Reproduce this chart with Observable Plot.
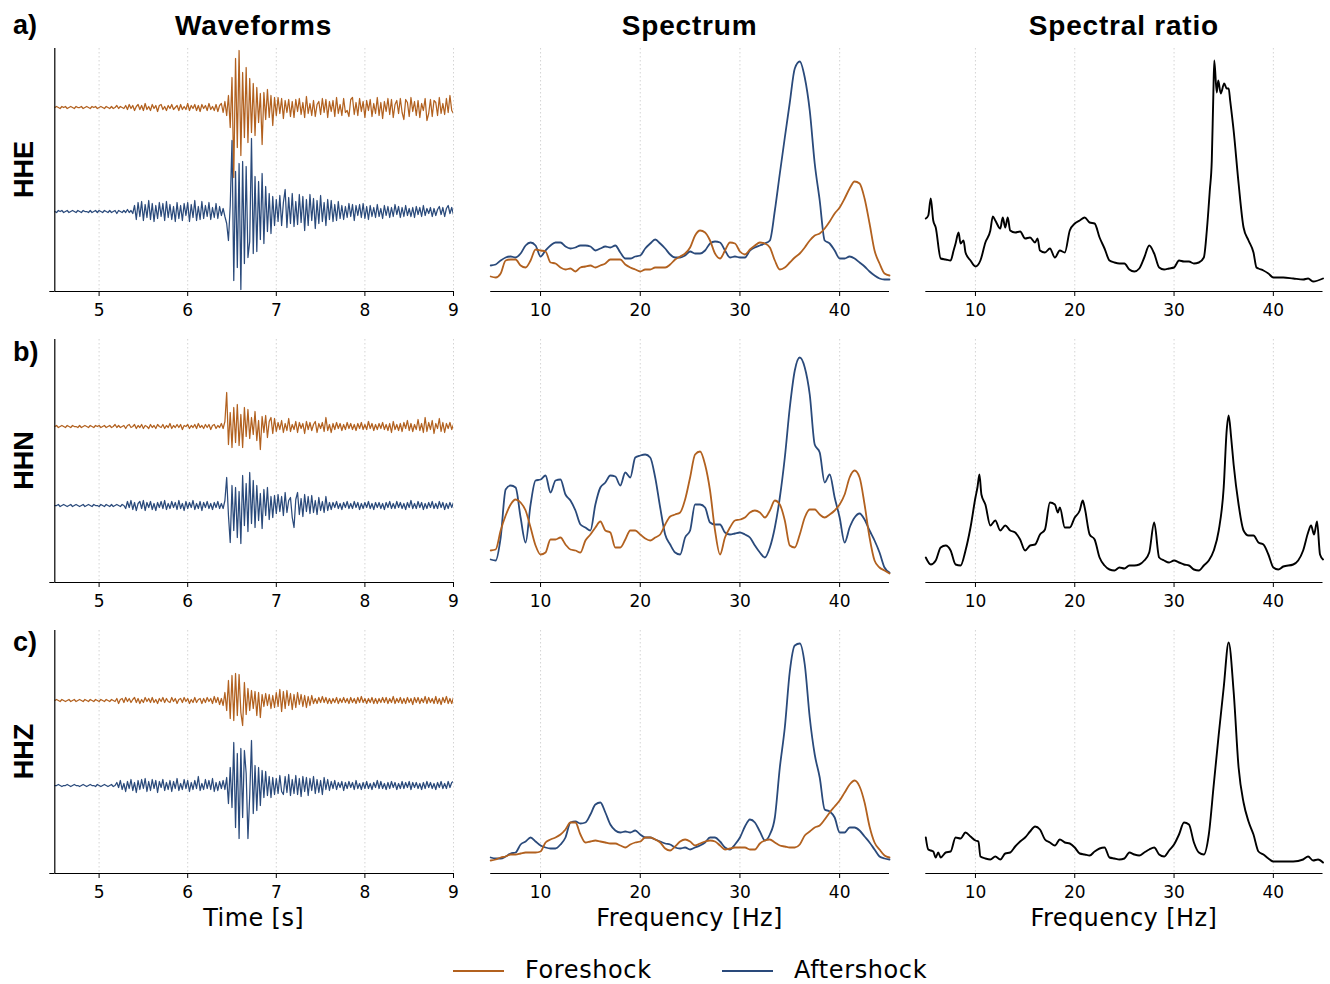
<!DOCTYPE html>
<html><head><meta charset="utf-8">
<script src="https://cdn.jsdelivr.net/npm/d3@7"></script>
<script src="https://cdn.jsdelivr.net/npm/@observablehq/plot@0.6"></script>
<style>
html,body{margin:0;padding:0;background:#fff;}
body{width:1330px;height:984px;position:relative;overflow:hidden;}
svg.plotpanel{position:absolute;}
</style></head><body>
<script>
// ---------------- data ----------------
const channels = ["HHE", "HHN", "HHZ"];
const rowTags = ["a)", "b)", "c)"];
const colTitles = ["Waveforms", "Spectrum", "Spectral ratio"];
const xLabels = ["Time [s]", "Frequency [Hz]", "Frequency [Hz]"];
const seriesNames = ["Foreshock", "Aftershock"];
const timeTicks = [5, 6, 7, 8, 9];
const freqTicks = [10, 20, 30, 40];
const waveStart = 4.5, waveStep = 0.02;   // seconds

// waveform samples (amplitude, arbitrary units), every 0.02 s from 4.5 s
const hheFore = [
0,1,0,-1,1,0,1,-1,0,1, 0,-1,1,0,0,1,-1,0,1,0, -1,1,0,1,-1,0,1,0,-1,1, 0,-1,1,-1,0,2,-1,1,0,-1,
2,-2,3,-1,2,-3,1,3,-2,2, -3,4,-2,1,-3,3,-1,2,-4,2, 3,-2,1,-3,2,-1,3,-2,0,2, -3,3,-2,1,-2,4,-3,2,-1,3,
-3,2,-4,3,-1,2,-3,4,-2,1, -3,3,-4,2,4, -5,6,-8,12,-20,
30,-70,49,-40,57,-48,35,-30,40,-35, 29,-25,24,-28,20,-15,14,-37,15,-12, 18,-10,12,-18,10,
-8,10,-6,9,-11,7,-5,8,-9,6, -10,8,-4,9,-7,5,-10,11,-6,4, -8,7,-9,3,6,-7,9,-5,8,-10,
6,-4,7,-9,10,-6,3,-8,9,-5, -3,-9,8,10,-7,5,-8,9,-4,6, -10,7,-3,8,-9,4,-6,10,-8,5,
-11,6,-4,9,-7,8,-10,3,7,-6, 9,-5,-12,8,5,-9,10,-4,6,-8, 7,-10,4,-3,9,-13,-6,8,-9,7,
5,-8,10,-6,4,-7,9,-5,12,-3, -6];
const hheAfter = [
0,-1,1,0,1,-1,0,1,-1,0, 1,0,-1,1,0,-1,1,0,0,-1, 1,-1,0,1,-1,1,0,-1,1,0, -1,1,-1,0,1,-2,1,0,-1,1,
-1,2,-1,1,-2,
6,-8,9,-5,10,-9,7,-6,11,-8, 8,-10,6,-7,9,-5,8,-9,10,-6, 7,-8,5,-10,9,-7,6,-9,8,-4,
9,-10,7,-6,11,-9,5,-8,10,-7, 6,-5,9,-8,4,-6,8,-7,5,-4, 3,-5,
-12,-29,6,
71,-69,40,-56,48,-78,50,-52,45,-46, -30,73,-42,35,-40,30,-28,38,-32,25, -20,18,-22,15,-14,
12,-10,16,-14,9,22,-16,14,-12,18, -15,10,-13,17,-11,15,-19,12,-14,17, -9,13,-17,11,-12,16,-10,9,-14,12,
-8,11,-10,7,-9,10,
-7,6,-8,5,-6,8,-5,7,-9,6, -4,7,-6,8,-7,5,-8,6,-5,4, -6,7,-5,3,-7,6,-4,5,-6,4,
-5,7,-3,5,-6,4,-5,6,-4,3, -5,4,-6,5,-3,4,-5,6,-4,3, -2,4,-5,3,-4,2,5,-3,4,-5, 3,6,-2,4,-3];
const hhnFore = [
0,1,-1,0,1,0,-1,1,0,-1, 1,0,0,-1,1,-1,0,1,0,-1, 1,0,-1,1,0,1,-1,0,1,-1, 0,1,-1,0,2,-1,1,-1,0,1,
-2,1,2,-1,0,2,-2,1,-1,2, -2,1,0,-2,2,-1,1,-2,2,0, -1,2,-2,1,-1,3,-2,1,-1,2, -1,2,-3,1,0,2,-2,1,-1,2,
-2,3,-1,1,-2,2,-1,2,-3,1, 2,-2,1,-1,3,
-2,5,
34,-18,14,-21,19,-16,22,-19,12,-21, 19,-10,17,-12,9,-8,15,-14,6,-23, 10,-6,11,-11,5,9,-7,8,
-5,4,-3,6,-6,3,-4,8,-5,2, -3,5,-6,4,-2,3,-7,5,-3,4, -4,2,5,-6,3,-2,4,-5,9,-4,
2,-6,3,-3,4,-2,3,-4,2,-3, 4,-2,3,-3,2,-4,3,-2,4,-3, 2,-3,5,-2,3,-4,2,-3,3,-2,
4,-3,2,-4,3,-6,5,-3,2,-4, 3,-5,4,-2,6,-4,3,-5,2,-3, 7,-4,3,-6,9,-5,4,-3,6,-7,
3,-2,8,-5,4,-6,3,-2,4,-3, 2];
const hhnAfter = [
0,0,1,-1,0,1,0,-1,0,1, -1,0,1,0,-1,0,1,-1,0,1, 0,-1,1,0,0,-1,1,0,-1,1, 0,-1,1,-1,0,1,0,-1,1,0,
-3,4,-2,5,-4,3,-5,2,4,-3, 5,-5,3,-2,4,-4,2,-5,3,-2, 4,-3,5,-4,2,-3,4,-2,3,-4, 5,-3,2,-5,4,-3,3,-2,5,-4,
2,-3,4,-5,3,-2,4,-3,2,-4, 3,-2,4,-3,2,-3,5,
28,-10,-37,20,-25,18,-32,14,-38,30, -20,22,-26,33,-18,25,-22,20,-15,12, -23,16,-10,18,-14,9,-12,10,
-8,11,-6,9,-10,13,-7,5,8,-12, -22,6,13,-9,7,-11,11,-6,9,-8, 10,-7,5,-9,8,-5,4,-7,9,-5, 3,
-4,3,-2,4,-3,2,-4,3,-2,4, -3,2,-3,4,-2,3,-4,2,-3,3, -2,4,-3,2,-4,3,-2,3,-3,2, -4,3,-2,4,-3,2,-3,4,-2,3,
-3,2,-4,3,-2,5,-3,2,-3,4, -2,3,-4,2,-3,3,-2,4,-3,2, -3,4,-2,3,-4,2,-3,3,-2,3];
const hhzFore = [
0,1,0,-1,1,0,-1,0,1,-1, 0,1,-1,0,1,0,-1,1,0,-1, 1,0,-1,1,0,-1,1,0,-1,1, 0,-1,1,0,-1,
2,-3,1,2,-2,3,-1,2,-2,1, 3,-2,2,-3,1,-2,3,-1,2,-2, 3,-2,1,-3,2,-1,3,-2,2,-1,
-2,3,-1,2,-3,1,2,-2,3,-1, 2,-3,1,-2,3,-2,1,2,-3,2, -2,3,-1,2,-3,4,-2,3,-4,2,
-5,8,-10,20,-18,25,-20,27,-15,26, -12,-25,18,-14,12,-10,10,-8,9,-15, 8,-17,6,-6,7,-5,6,-8,5,-7,
8,-6,11,-11,9,-8,10,-5,7,-9, 6,-7,8,-4,6,-6,5,-7,4,-5, 5,
-3,2,-3,3,-2,4,-2,3,-3,2, -3,2,-2,3,-3,2,-2,3,-2,2, -3,3,-2,2,-3,3,-2,4,-2,2, -3,2,-2,3,-3,2,-3,2,-2,3,
-2,3,-3,2,-2,4,-3,2,-2,3, -3,2,-3,3,-2,2,-4,3,-2,3, -3,2,-2,4,-3,3,-2,2,-3,4, -3,2,-4,3,-2,4,-3,2,-3,3];
const hhzAfter = [
0,0,1,0,-1,0,0,1,0,-1, 0,1,0,0,-1,0,1,0,-1,0, 1,0,0,-1,1,0,-1,0,1,0, -1,0,1,-1,0,
3,-2,5,-4,2,-6,4,-3,6,-5, 3,-7,5,-4,6,-3,7,-6,4,-5, 6,-3,5,-7,4,-2,6,-5,3,-4,
5,-6,4,-3,7,-5,2,-4,6,-3, 5,-6,3,-4,5,-3,9,-5,2,-4, 6,-3,5,-4,7,-6,3,-5,4,-3, 5,
-4,8,-18,18,-22,43,-42,32,-53,37, -32,35,12,-53,-10,45,-28,20,-25,18, -20,15,-12,14,-10,9,-12,8,-9,
7,-8,10,-6,-9,9,-7,11,-10,6, -8,10,-9,7,-11,9,-6,8,-10,7, -5,9,-8,6,-7,5,-9,8,-4,6, -5,
4,-3,5,-4,3,-2,4,-5,3,-3, 4,-2,3,-4,5,-3,2,-4,3,-3, 4,-3,2,-4,3,-2,5,-3,4,-3, 2,-4,3,-3,4,-2,3,-4,2,-3,
4,-3,3,-2,4,-4,3,-2,3,-3, 2,-4,3,-3,4,-2,3,-3,2,-4, 3,-2,4,-3,2,-3,4,-2,3,4];

// spectra (amplitude, arbitrary units) at 5, 5.5, ..., 45 Hz
const specFreqs = d3.range(5, 45.001, 0.5);
const hheSpecFore = [15,14,18,31,32,32,26,24,31,42, 41,40,29,28,24,22,23,20,24,25, 26,24,26,28,32,32,32,27,24,22,
 20,22,22,24,24,24,27,32,35,38, 44,56,61,59,51,38,33,41,49,48, 40,37,42,46,49,48,44,31,22,24,
 29,34,38,44,51,56,58,63,70,78, 84,93,103,110,108,93,68,41,28,18, 16];
const hheSpecAfter = [26,27,31,34,35,34,38,46,49,46, 35,41,46,49,49,45,43,44,46,46, 45,41,43,45,44,46,39,33,33,35,
 36,43,48,52,48,43,37,34,34,36, 40,38,38,41,48,50,49,41,34,35, 34,34,41,44,46,48,51,81,118,154,
 189,223,230,214,181,128,91,51,48,41, 33,33,35,33,29,25,20,16,13,12, 12];
const hhnSpecFore = [32,33,52,67,78,83,80,72,55,37, 28,30,43,43,45,38,33,32,30,42, 48,55,61,52,50,35,35,43,52,52,
 48,44,42,45,48,58,66,68,70,83, 105,128,131,118,92,52,28,45,55,62, 63,65,70,72,70,65,72,82,78,62,
 37,35,48,65,73,73,68,65,68,72, 78,88,105,112,105,78,45,22,15,12, 9];
const hhnSpecAfter = [23,22,45,93,97,95,65,40,78,102, 103,107,90,102,103,88,82,72,58,55, 52,78,95,100,107,106,97,110,105,125,
 127,128,125,105,75,48,38,30,28,45, 52,78,78,75,60,58,58,50,48,49, 50,48,45,37,30,25,35,55,85,125,
 175,212,225,215,188,138,130,100,108,85, 65,40,55,65,69,63,52,42,30,15, 10];
const hhzSpecFore = [13,14,16,17,19,19,20,21,21,21, 22,31,34,36,39,44,51,51,39,31, 32,33,32,31,30,30,28,26,29,31,
 32,36,36,34,31,25,23,27,32,34, 32,28,30,32,33,32,28,24,25,26, 26,26,24,24,30,33,34,31,28,27,
 26,26,29,38,42,46,48,54,61,67, 73,81,89,93,87,71,47,31,24,18, 16];
const hhzSpecAfter = [16,15,15,17,20,21,29,32,36,32, 28,26,25,25,29,36,51,52,50,51, 59,69,71,61,49,43,41,42,41,43,
 39,36,36,34,32,30,29,26,25,26, 24,26,28,31,36,36,32,26,24,29, 36,47,54,51,42,33,39,56,106,146,
 202,228,230,209,156,119,96,64,62,56, 41,41,46,46,43,37,31,24,17,15, 14];

// spectral ratios (aftershock / foreshock), irregular frequency samples
const hheRatioFreq = [5,5.25,5.5,5.75,6, 6.5,7,7.5,7.8,8, 8.3,8.5,8.8,9,9.5, 10,10.5,11,11.5,11.75, 12,12.5,12.75,13,13.25,
 13.5,14,14.5,15,15.5, 16,16.25,16.5,17,17.5, 18,18.5,19,19.5,20, 20.5,21,21.5,22,22.5, 23,23.5,24,24.5,25,
 25.5,26,26.5,27,27.5, 28,28.5,29,29.5,30, 30.5,31,31.5,32,32.5, 33,33.3,33.6,33.8,33.95, 34.05,34.3,34.45,34.7,35.05,
 35.3,35.5,35.65,36,36.5, 37,37.5,38,38.3,38.5, 39,39.5,40,41,42, 43,43.5,44,45];
const hheRatio = [73,76,93,71,64, 33,32,31,41,48, 59,48,51,39,31, 25,31,49,61,75, 71,63,74,64,74,
 61,59,60,53,54, 49,53,41,39,43, 34,41,39,61,68, 71,74,69,68,54, 43,31,29,28,28,
 22,20,23,34,46, 38,24,22,23,24, 31,30,30,28,29, 34,61,101,131,194, 231,199,211,198,208,
 203,203,191,161,108, 64,51,39,24,23, 21,18,14,14,13, 12,13,10,13];
const hhnRatioFreq = [5,5.5,6,6.5,7, 7.5,8,8.5,9,9.5, 10,10.2,10.4,10.6,11, 11.5,12,12.5,13,13.5, 14,14.5,15,15.5,16,
 16.5,17,17.5,18,18.3, 18.5,19,19.5,20,20.5, 20.8,21,21.5,22,22.5, 23,23.5,24,24.5,25, 25.5,26,26.5,27,27.5,
 28,28.5,29,29.5,30, 30.5,31,31.5,32,32.5, 33,33.5,34,34.5,35, 35.3,35.5,35.75,36,36.5, 37,37.5,38,38.5,39,
 39.5,40,40.5,41,42, 42.5,43,43.5,43.8,44.1, 44.4,44.7,45];
const hhnRatio = [25,18,22,35,37, 32,18,17,32,55, 85,95,108,88,78, 57,62,52,57,52, 50,43,32,37,38,
 48,53,80,78,70, 75,55,55,65,72, 82,75,48,43,25, 17,13,12,15,14, 17,17,18,22,30,
 60,25,22,20,22, 20,18,17,13,12, 17,22,32,52,95, 152,167,145,118,78, 52,47,47,40,38,
 28,15,13,16,18, 22,32,50,57,48, 61,28,23];
const hhzRatioFreq = [5,5.25,5.5,5.75,6, 6.25,6.5,7,7.5,8, 8.5,9,9.5,10,10.3, 10.5,11,11.5,12,12.5, 13,13.5,14,14.5,15,
 15.5,16,16.5,17,17.5, 18,18.5,19,19.5,20, 20.5,21,21.5,22,22.5, 23,23.5,24,24.5,25, 25.5,26,26.5,27,27.5,
 28,28.5,29,29.5,30, 30.5,31,31.5,32,32.5, 33,33.5,34,34.5,35, 35.5,36,36.5,37,37.5, 38,38.5,39,39.5,40,
 41,42,43,43.5,44, 44.5,45];
const hhzRatio = [36,24,23,22,16, 21,16,21,22,36, 35,41,37,33,32, 17,15,14,17,14, 20,21,27,32,36,
 42,47,44,34,31, 28,34,31,30,26, 20,19,18,22,25, 26,16,15,14,15, 21,19,18,21,24,
 26,19,17,23,29, 39,51,49,31,21, 19,39,89,139,186, 231,182,106,71,52, 39,22,19,15,12,
 12,12,14,17,13, 14,11];

// ---------------- layout / styles ----------------
const COLORS = {Foreshock: "#b2611f", Aftershock: "#2a4a7b", ratio: "#000"};
const cols = [
  {left: 0,   width: 470, ml: 54.3, mr: 17,  domain: [4.5, 9], ticks: timeTicks},
  {left: 470, width: 430, ml: 20.2, mr: 11,  domain: [5, 45],  ticks: freqTicks},
  {left: 905, width: 425, ml: 20.3, mr: 7.5, domain: [5, 45],  ticks: freqTicks}
];
const rowTop = [48, 339, 630];
const PH = 243, MT = 10, MB = 36;
const waveOffsets = [[184, 80], [156, 77], [173, 88]];

const waves = [[hheFore, hheAfter], [hhnFore, hhnAfter], [hhzFore, hhzAfter]];
const specs = [[hheSpecFore, hheSpecAfter], [hhnSpecFore, hhnSpecAfter], [hhzSpecFore, hhzSpecAfter]];
const ratios = [[hheRatioFreq, hheRatio], [hhnRatioFreq, hhnRatio], [hhzRatioFreq, hhzRatio]];

function panel(c, r, marks) {
  const C = cols[c];
  const yAxisMarks = c === 0
    ? [Plot.ruleX([C.domain[0]], {stroke: "#000", strokeWidth: 1.2}),
       Plot.axisY({ticks: [0], tickSize: 5, tickFormat: () => "", label: null, stroke: "#000"})]
    : [];
  const svg = Plot.plot({
    width: C.width, height: PH + MT + MB,
    marginLeft: C.ml, marginRight: C.mr, marginTop: MT, marginBottom: MB,
    style: {fontFamily: "DejaVu Sans", fontSize: "17px", color: "#000", background: "transparent", overflow: "visible"},
    x: {domain: C.domain, label: null},
    y: c === 0 ? {domain: [0, PH], label: null} : {domain: [0, PH], axis: null, label: null},
    marks: [
      Plot.gridX(C.ticks, {stroke: "#cfcfcf", strokeOpacity: 1, strokeWidth: 0.9, strokeDasharray: "1.5,2.5"}),
      ...marks,
      ...yAxisMarks,
      Plot.ruleY([0], {stroke: "#000", strokeWidth: 1.2}),
      Plot.axisX({ticks: C.ticks, tickSize: 5, tickPadding: 7, label: null, tickFormat: d => String(d), fontSize: 17, stroke: "#000"})
    ]
  });
  svg.classList.add("plotpanel");
  svg.style.left = C.left + "px";
  svg.style.top = (rowTop[r] - MT) + "px";
  document.body.appendChild(svg);
}

for (let r = 0; r < 3; r++) {
  // waveforms
  const wMarks = seriesNames.map((name, k) => {
    const data = waves[r][k].map((a, i) => ({t: waveStart + i * waveStep, a: waveOffsets[r][k] + a}));
    return Plot.line(data, {x: "t", y: "a", stroke: COLORS[name], strokeWidth: 1.25, clip: true});
  });
  panel(0, r, wMarks);
  // spectra (aftershock drawn first so foreshock sits on top where overlapping)
  const sMarks = [1, 0].map(k => {
    const data = specs[r][k].map((v, i) => ({f: specFreqs[i], v}));
    return Plot.line(data, {x: "f", y: "v", stroke: COLORS[seriesNames[k]], strokeWidth: 1.8, curve: "monotone-x"});
  });
  panel(1, r, sMarks);
  // spectral ratio
  const rd = ratios[r][0].map((f, i) => ({f, v: ratios[r][1][i]}));
  panel(2, r, [Plot.line(rd, {x: "f", y: "v", stroke: COLORS.ratio, strokeWidth: 1.9, curve: "monotone-x"})]);
}

// ---------------- text overlay ----------------
const ov = d3.select("body").append("svg")
  .attr("width", 1330).attr("height", 984)
  .style("position", "absolute").style("left", "0px").style("top", "0px")
  .style("pointer-events", "none");

const colCenters = cols.map(C => (C.left + C.ml + C.left + C.width - C.mr) / 2);
colTitles.forEach((t, c) => {
  ov.append("text").attr("x", colCenters[c]).attr("y", 35).attr("text-anchor", "middle")
    .attr("font-family", "Liberation Sans").attr("font-weight", "bold").attr("font-size", 28)
    .attr("letter-spacing", 0.8).text(t);
});
xLabels.forEach((t, c) => {
  ov.append("text").attr("x", colCenters[c]).attr("y", 926).attr("text-anchor", "middle")
    .attr("font-family", "DejaVu Sans").attr("font-size", 24).attr("letter-spacing", 0.4).text(t);
});
const tagBase = [34, 361, 651];
rowTags.forEach((t, r) => {
  ov.append("text").attr("x", 13).attr("y", tagBase[r])
    .attr("font-family", "Liberation Sans").attr("font-weight", "bold").attr("font-size", 27).text(t);
});
channels.forEach((t, r) => {
  ov.append("text").attr("transform", `translate(33,${rowTop[r] + PH / 2}) rotate(-90)`)
    .attr("text-anchor", "middle")
    .attr("font-family", "Liberation Sans").attr("font-weight", "bold").attr("font-size", 27).text(t);
});
// legend
const legendItems = [{name: "Foreshock", x: 453}, {name: "Aftershock", x: 722}];
legendItems.forEach(it => {
  ov.append("line").attr("x1", it.x).attr("x2", it.x + 51).attr("y1", 971).attr("y2", 971)
    .attr("stroke", COLORS[it.name]).attr("stroke-width", 2);
  ov.append("text").attr("x", it.x + 72).attr("y", 978)
    .attr("font-family", "DejaVu Sans").attr("font-size", 24).attr("letter-spacing", 0.6).text(it.name);
});
</script>
</body></html>
